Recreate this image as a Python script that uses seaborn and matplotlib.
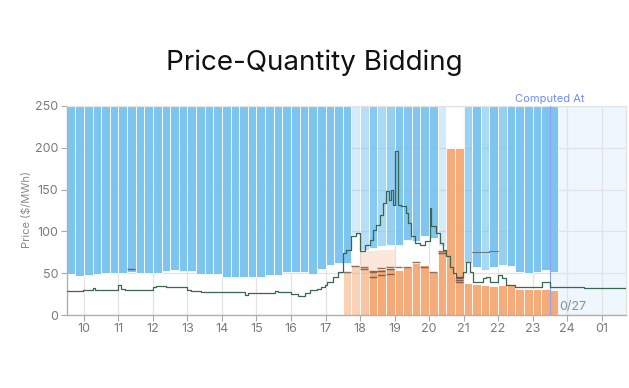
import numpy as np
import matplotlib
matplotlib.use("Agg")
import matplotlib.pyplot as plt
from matplotlib.colors import to_rgba
import seaborn as sns

# ---- data ----
# 15-minute intervals, hours (decimal) from 9:30 to 23:30
bar_start = np.arange(9.5, 23.75, 0.25)

blue_bottom = [49.5, 47, 48, 49, 50, 50, 50, 52, 50, 50, 50, 53, 54, 53, 53,
               49, 49, 49, 46, 46, 45, 46, 46, 48, 48, 52, 51, 51, 49, 55, 60,
               62, 62, 96, 78, 80, 82, 84, 84, 90, 88, 94, 92, 82, np.nan, np.nan,
               62, 58, 54, 58, 60, 59, 52, 50, 51, 54, 52]
blue_alpha = [0.92] * 33 + [0.3, 0.5, 0.85, 0.6, 0.75, 0.9, 0.9, 0.9, 0.9, 0.9,
                            0.3, 0, 0, 0.7, 0.92, 0.6, 0.92, 0.75, 0.92, 0.92,
                            0.92, 0.92, 0.92, 0.92]

orange_top = [np.nan] * 32 + [52, 60, 58, 52, 55, 56, 54, 58, 62, 60, 52, 77,
                              200, 200, 38, 37, 36, 35, 36, 37, 31, 31, 31, 31, 30]
orange_alpha = [0] * 32 + [0.5, 0.5, 0.5] + [0.92] * 22

# faint band of the second bid block
band_start = [18.0, 18.25, 18.5, 18.75]
band_top = [76, 77, 78, 78]

# short bid-step marks
dash_time = [17.5, 17.75, 18.0, 18.0, 18.25, 18.25, 18.25, 18.5, 18.5, 18.5,
             18.75, 18.75, 18.75, 19.0, 19.25, 19.5, 19.75, 20.0, 20.25, 20.25,
             20.75, 20.75, 20.75, 11.25]
dash_price = [51, 59, 57, 55, 53, 51, 46, 56, 53, 48,
              58, 55, 49, 57, 57, 63, 58, 52, 76, 74,
              44, 42, 40, 55]

gray_step_time = [21.25, 21.75, 22.0]
gray_step_price = [75, 76, 76]

# clearing price (step line)
price_time = [9.5, 9.97, 10.26, 10.33, 10.99, 11.08, 11.2, 12.0, 12.1, 12.39,
              13.0, 13.1, 13.4, 14.03, 14.66, 14.75, 15.53, 15.62, 16.01, 16.2,
              16.4, 16.54, 16.75, 16.86, 16.98, 17.05, 17.22, 17.36, 17.51, 17.6,
              17.75, 17.89, 17.99, 18.14, 18.28, 18.38, 18.47, 18.57, 18.67, 18.76,
              18.84, 18.91, 18.96, 19.01, 19.1, 19.2, 19.33, 19.39, 19.49, 19.59,
              19.73, 19.88, 20.02, 20.07, 20.19, 20.31, 20.41, 20.5, 20.6, 20.7,
              20.79, 20.99, 21.08, 21.18, 21.26, 21.57, 21.66, 21.76, 22.0, 22.1,
              22.24, 22.48, 23.21, 23.26, 23.5, 24.5, 25.72]
price_val = [29, 30.5, 32, 30, 35.5, 31.5, 30, 33, 35, 33.5,
             30, 28.5, 28, 27, 24, 26, 29, 27, 25, 23,
             26, 30, 31, 34, 36, 40, 46, 52, 74, 78,
             94, 98, 76, 84, 90, 102, 108, 120, 134, 148,
             138, 150, 132, 196, 132, 130, 122, 110, 94, 86,
             84, 88, 128, 106, 98, 86, 78, 70, 58, 50,
             46, 52, 64, 52, 40, 44, 46, 40, 48, 44,
             36, 34, 34, 40, 33, 32, 32]

tick_pos = list(range(10, 26))
tick_lab = ["10", "11", "12", "13", "14", "15", "16", "17", "18", "19",
            "20", "21", "22", "23", "24", "01"]
computed_at = 23.5
x_end = 25.72

# ---- styling ----
sns.set_theme(style="whitegrid")
plt.rcParams['font.family'] = ['Inter', 'DejaVu Sans']

BLUE = "#72c0ee"
ORANGE = "#f3a56f"
GREY = "#8a8a8a"

fig = plt.figure(figsize=(6.29, 3.88), dpi=100)
ax = fig.add_axes([0.106, 0.188, 0.890, 0.539])

ax.axvspan(computed_at, x_end, color="#eef7fd", zorder=0, lw=0)

bb = np.array(blue_bottom, dtype=float)
blue_cols = [to_rgba(BLUE, a) for a in blue_alpha]
ax.bar(bar_start, 250 - bb, bottom=bb, width=0.25, align="edge",
       color=blue_cols, edgecolor="white", linewidth=0.6, zorder=2)

ot = np.array(orange_top, dtype=float)
orange_cols = [to_rgba(ORANGE, a) for a in orange_alpha]
ax.bar(bar_start, ot, width=0.25, align="edge",
       color=orange_cols, edgecolor="white", linewidth=0.6, zorder=2)
ax.bar(band_start, band_top, width=0.25, align="edge",
       color=to_rgba(ORANGE, 0.25), edgecolor="none", zorder=1.5)

ax.hlines(dash_price, dash_time, np.array(dash_time) + 0.23,
          color="#5a3d30", alpha=0.7, linewidth=1.0, zorder=3)
ax.step(gray_step_time, gray_step_price, where="post",
        color="#6d7a80", linewidth=0.8, zorder=3)

sns.lineplot(x=price_time, y=price_val, drawstyle="steps-post", ax=ax,
             color="#3a6654", linewidth=0.9, zorder=4, estimator=None)

ax.axvline(computed_at, color="#8f9ff2", linewidth=0.8, zorder=3)
ax.text(computed_at, 252, "Computed At", color="#6d8ff0", fontsize=8,
        ha="center", va="bottom")
ax.text(23.78, 3, "0/27", color="#8d8d8d", fontsize=9, ha="left", va="bottom",
        zorder=5)

ax.set_xlim(9.5, x_end)
ax.set_ylim(0, 250)
ax.set_xticks(tick_pos)
ax.set_xticklabels(tick_lab)
ax.set_yticks([0, 50, 100, 150, 200, 250])
ax.grid(True, color="#e3e3e3", linewidth=0.9)
ax.set_axisbelow(True)
ax.tick_params(axis="both", colors="#aaaaaa", labelcolor="#7a7a7a",
               labelsize=9, length=4, width=0.8, direction="out",
               left=True, bottom=True, pad=2)
for side in ["left", "bottom"]:
    ax.spines[side].set_color("#b0b0b0")
    ax.spines[side].set_linewidth(1.0)
for side in ["top", "right"]:
    ax.spines[side].set_color("#e3e3e3")
    ax.spines[side].set_linewidth(0.9)
ax.set_xlabel("")
ax.set_ylabel("")

fig.text(27 / 629, 1 - 210 / 388, "Price ($/MWh)", rotation=90,
         ha="center", va="center", color=GREY, fontsize=8)
fig.text(0.5, 1 - 63 / 388, "Price-Quantity Bidding", ha="center",
         va="center", color="#111111", fontsize=20)

fig.savefig("out.png", dpi=100, facecolor="white")
